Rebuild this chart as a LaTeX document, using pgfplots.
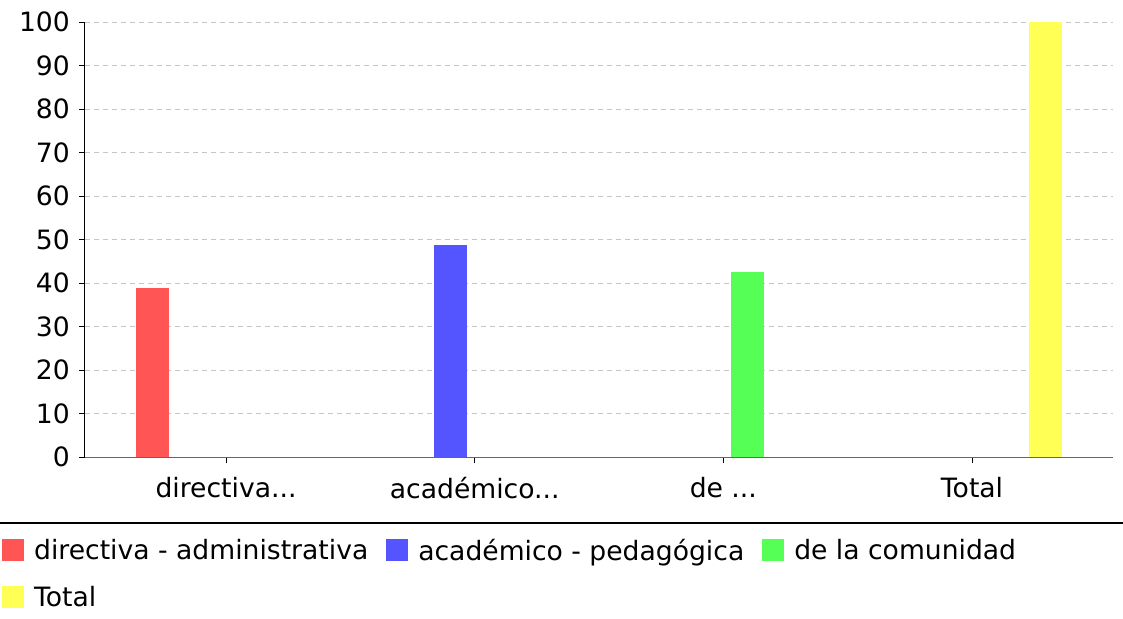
\documentclass[border=0pt]{standalone}
\usepackage{pgfplots}
\pgfplotsset{compat=1.18}
\usepackage{fontspec}
\setmainfont{DejaVu Sans}
\definecolor{cred}{HTML}{FF5555}
\definecolor{cblue}{HTML}{5555FF}
\definecolor{cgreen}{HTML}{55FF55}
\definecolor{cyellow}{HTML}{FFFF55}
\newcommand{\bigf}{\fontsize{26.6}{31}\selectfont}
\begin{document}
\begin{tikzpicture}[x=1pt,y=1pt]
\useasboundingbox (0,0) rectangle (1123,618);
\begin{axis}[
  at={(85pt,161pt)}, anchor=south west, scale only axis,
  width=1028pt, height=435pt,
  ymin=0, ymax=100, ytick={0,10,...,100},
  xmin=-0.567, xmax=3.567, xtick={0,1,2,3},
  xticklabels={{directiva.{}.{}.},{académico.{}.{}.},{de .{}.{}.},Total},
  ybar=16pt, bar width=33pt,
  legend image code/.code={\fill[#1] (0pt,-11pt) rectangle (22pt,11pt);},
  axis lines=left, axis line style={-},
  x axis line style={draw=gray!80!black, line width=1pt},
  y axis line style={draw=black, line width=1pt},
  tick align=outside, major tick length=6pt,
  tick style={black, line width=0.8pt},
  ymajorgrids, major grid style={draw=gray!45, dash pattern=on 5pt off 4pt, line width=0.8pt},
  enlargelimits=false, clip=false,
  /pgf/number format/assume math mode=true,
  tick label style={font=\bigf, inner sep=0pt},
  yticklabel style={xshift=-9pt},
  xticklabel style={yshift=-14pt},
  legend style={at={(axis description cs:-0.0837,-0.179)}, anchor=north west,
    draw=none, fill=none, font=\bigf, legend columns=3,
    /tikz/every odd column/.append style={column sep=8pt},
    /tikz/every even column/.append style={column sep=16pt},
    row sep=20pt},
  legend cell align=left,
]
\addplot[fill=cred, draw=none] coordinates {(0,38.9)};
\addplot[fill=cblue, draw=none] coordinates {(1,48.7)};
\addplot[fill=cgreen, draw=none] coordinates {(2,42.5)};
\addplot[fill=cyellow, draw=none] coordinates {(3,100)};
\legend{directiva - administrativa, académico - pedagógica, de la comunidad, Total}
\end{axis}
\draw[black, line width=2pt] (0,95) -- (1123,95);
\end{tikzpicture}
\end{document}
